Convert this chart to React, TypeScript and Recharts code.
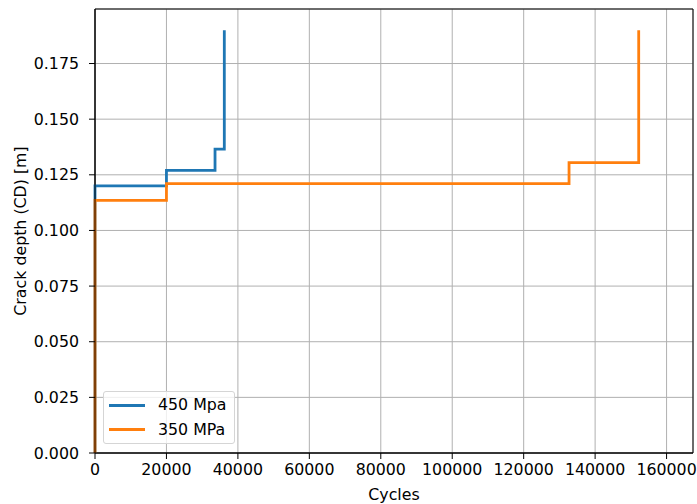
import React from 'react';
import { LineChart, Line, XAxis, YAxis, CartesianGrid, ReferenceArea, Legend } from 'recharts';

// crack growth steps: [cycles, depth]
const cycles450 = [0, 0, 20000, 33600, 36200];
const depth450 = [0, 0.12, 0.127, 0.1365, 0.19];
const cycles350 = [0, 0, 20000, 132700, 152200];
const depth350 = [0, 0.1135, 0.121, 0.1305, 0.19];

const xTicks = [0, 20000, 40000, 60000, 80000, 100000, 120000, 140000, 160000];
const yTicks = [0, 0.025, 0.05, 0.075, 0.1, 0.125, 0.15, 0.175];

const seriesNames = ['450 Mpa', '350 MPa'];
const seriesColors = ['#1f77b4', '#ff7f0e'];

const XMAX = 167400;
const YMAX = 0.1995;
const FONT = '"DejaVu Sans", sans-serif';
const FS = 15.8;
const LW = 2.8;

const toPoints = (xs: number[], ys: number[]) => xs.map((x, i) => ({ x, y: ys[i] }));
const data450 = toPoints(cycles450, depth450);
const data350 = toPoints(cycles350, depth350);

const LegendBox = () => (
  <div
    style={{
      width: 132,
      height: 53,
      boxSizing: 'border-box',
      border: '1px solid #d5d5d5',
      borderRadius: 3,
      background: 'rgba(255,255,255,0.8)',
      fontFamily: FONT,
      fontSize: FS,
      color: '#000',
      position: 'relative',
    }}
  >
    {seriesNames.map((name, i) => (
      <div key={name} style={{ position: 'absolute', left: 5, top: 3 + i * 24.5, height: 20, display: 'flex', alignItems: 'center' }}>
        <div style={{ width: 36, height: 3, background: seriesColors[i] }} />
        <span style={{ marginLeft: 13, lineHeight: '20px', whiteSpace: 'nowrap' }}>{name}</span>
      </div>
    ))}
  </div>
);

const XLabel = ({ viewBox }: any) => (
  <text x={viewBox.x + viewBox.width / 2} y={494} textAnchor="middle" dominantBaseline="central" fill="#000" fontSize={FS} fontFamily={FONT}>
    Cycles
  </text>
);

const YLabel = ({ viewBox }: any) => {
  const cy = viewBox.y + viewBox.height / 2;
  return (
    <text x={20} y={cy} transform={`rotate(-90 20 ${cy})`} textAnchor="middle" dominantBaseline="central" fill="#000" fontSize={FS} fontFamily={FONT}>
      Crack depth (CD) [m]
    </text>
  );
};

export default function App() {
  return (
    <div style={{ position: 'absolute', left: 0, top: 0, background: '#fff' }}>
      <LineChart width={697} height={504} margin={{ top: 9, right: 4, bottom: 0, left: 0 }}>
        <CartesianGrid stroke="#b0b0b0" strokeWidth={1} />
        <XAxis
          type="number"
          dataKey="x"
          domain={[0, XMAX]}
          ticks={xTicks}
          height={51}
          stroke="#000"
          tickSize={6}
          tickMargin={5}
          tick={{ fill: '#000', fontSize: FS, fontFamily: FONT }}
          label={<XLabel />}
        />
        <YAxis
          type="number"
          dataKey="y"
          domain={[0, YMAX]}
          ticks={yTicks}
          width={95}
          stroke="#000"
          tickSize={6}
          tickMargin={10}
          tickFormatter={(v: number) => v.toFixed(3)}
          tick={{ fill: '#000', fontSize: FS, fontFamily: FONT }}
          label={<YLabel />}
        />
        <ReferenceArea x1={0} x2={XMAX} y1={0} y2={YMAX} fill="none" stroke="#000" strokeWidth={1} ifOverflow="visible" />
        <Line data={data450} dataKey="y" name={seriesNames[0]} type="stepAfter" stroke={seriesColors[0]} strokeWidth={LW} dot={false} isAnimationActive={false} />
        <Line data={data350} dataKey="y" name={seriesNames[1]} type="stepAfter" stroke={seriesColors[1]} strokeWidth={LW} dot={false} isAnimationActive={false} />
        <Legend
          layout="horizontal"
          align="center"
          verticalAlign="middle"
          wrapperStyle={{ left: 103, top: 391, width: 132 }}
          content={() => <LegendBox />}
        />
      </LineChart>
    </div>
  );
}
